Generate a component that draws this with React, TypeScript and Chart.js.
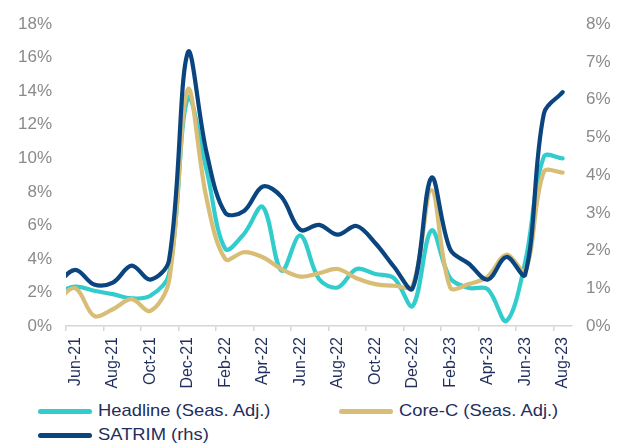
import React, { useEffect, useRef } from "react";
import { Chart, registerables } from "chart.js";

Chart.register(...registerables);

const months = [
  "May-21", "Jun-21", "Jul-21", "Aug-21", "Sep-21", "Oct-21", "Nov-21", "Dec-21",
  "Jan-22", "Feb-22", "Mar-22", "Apr-22", "May-22", "Jun-22", "Jul-22", "Aug-22",
  "Sep-22", "Oct-22", "Nov-22", "Dec-22", "Jan-23", "Feb-23", "Mar-23", "Apr-23",
  "May-23", "Jun-23", "Jul-23", "Aug-23",
];

const headline = [
  2.0, 2.35, 2.1, 1.9, 1.65, 1.8, 3.1, 13.6,
  9.3, 4.6, 5.5, 7.1, 3.3, 5.4, 2.8, 2.3,
  3.4, 3.1, 2.85, 1.2, 5.7, 2.85, 2.27, 2.2,
  0.3, 3.8, 10.1, 10.0,
];

const coreC = [
  1.5, 2.25, 0.6, 1.0, 1.6, 0.9, 2.7, 14.1,
  7.6, 4.0, 4.4, 4.1, 3.4, 2.95, 3.15, 3.4,
  2.85, 2.5, 2.4, 2.4, 8.1, 2.3, 2.5, 2.95,
  4.25, 3.3, 9.2, 9.15,
];

const satrim = [
  1.1, 1.49, 1.1, 1.15, 1.6, 1.23, 1.75, 7.25,
  4.6, 3.0, 3.05, 3.7, 3.42, 2.55, 2.68, 2.42,
  2.65, 2.2, 1.57, 1.0, 3.93, 2.03, 1.65, 1.23,
  1.83, 1.36, 5.63, 6.2,
];

const firstShown = "Jun-21";
const leftMax = 18;
const leftStep = 2;
const rightMax = 8;
const rightStep = 1;

const CYAN = "#33CCCC";
const GOLD = "#D8BD76";
const NAVY = "#0A4580";
const TEXT_NAVY = "#1F2E5C";
const GRAY = "#8A8A8A";
const FONT = "'Liberation Sans', Arial, sans-serif";

const legendItems = [
  { label: "Headline (Seas. Adj.)", color: CYAN, left: 38, top: 401 },
  { label: "Core-C (Seas. Adj.)", color: GOLD, left: 339, top: 401 },
  { label: "SATRIM (rhs)", color: NAVY, left: 38, top: 425 },
];

export default function App() {
  const ref = useRef<HTMLCanvasElement | null>(null);

  useEffect(() => {
    document.body.style.margin = "0";
    const canvas = ref.current;
    if (!canvas) return;
    const chart = new Chart(canvas, {
      type: "line",
      data: {
        labels: months,
        datasets: [
          {
            label: "SATRIM (rhs)",
            data: satrim,
            borderColor: NAVY,
            yAxisID: "y1",
            order: 0,
          },
          {
            label: "Core-C (Seas. Adj.)",
            data: coreC,
            borderColor: GOLD,
            yAxisID: "y",
            order: 1,
          },
          {
            label: "Headline (Seas. Adj.)",
            data: headline,
            borderColor: CYAN,
            yAxisID: "y",
            order: 2,
          },
        ],
      },
      options: {
        responsive: false,
        animation: false,
        devicePixelRatio: 1,
        layout: { padding: { top: 15, left: 0, right: 0, bottom: 0 } },
        elements: {
          line: { borderWidth: 4.2, tension: 0.35, borderCapStyle: "round", borderJoinStyle: "round", fill: false },
          point: { radius: 0, hoverRadius: 0 },
        },
        plugins: { legend: { display: false }, tooltip: { enabled: false } },
        scales: {
          x: {
            type: "category",
            min: firstShown,
            offset: true,
            afterFit: (s: any) => { s.height = 66; },
            border: { display: true, color: "#D6D6D6", width: 1.5 },
            grid: {
              offset: true,
              drawOnChartArea: false,
              drawTicks: true,
              tickLength: 5,
              lineWidth: 1.5,
              color: (ctx: any) => (ctx.index % 2 === 0 ? "#D6D6D6" : "rgba(0,0,0,0)"),
            },
            ticks: {
              autoSkip: false,
              maxRotation: 90,
              minRotation: 90,
              padding: 6,
              color: TEXT_NAVY,
              font: { family: FONT, size: 16 },
              callback: function (this: any, value: any, index: number) {
                return index % 2 === 0 ? this.getLabelForValue(value) : "";
              },
            },
          },
          y: {
            position: "left",
            min: 0,
            max: leftMax,
            afterFit: (s: any) => { s.width = 66; },
            border: { display: false },
            grid: { display: false, drawTicks: false },
            ticks: {
              stepSize: leftStep,
              padding: 14,
              color: GRAY,
              font: { family: FONT, size: 17 },
              callback: (v: any) => `${v}%`,
            },
          },
          y1: {
            position: "right",
            min: 0,
            max: rightMax,
            afterFit: (s: any) => { s.width = 57; },
            border: { display: false },
            grid: { display: false, drawTicks: false },
            ticks: {
              stepSize: rightStep,
              padding: 14,
              color: GRAY,
              font: { family: FONT, size: 17 },
              callback: (v: any) => `${v}%`,
            },
          },
        },
      },
    });
    return () => chart.destroy();
  }, []);

  return (
    <div style={{ position: "relative", width: 629, height: 447, background: "#fff", overflow: "hidden" }}>
      <canvas ref={ref} width={629} height={392} style={{ display: "block", width: 629, height: 392 }} />
      {legendItems.map((it) => (
        <div
          key={it.label}
          style={{
            position: "absolute",
            left: it.left,
            top: it.top,
            height: 20,
            display: "flex",
            alignItems: "center",
            fontFamily: FONT,
            fontSize: 17,
            color: TEXT_NAVY,
            whiteSpace: "nowrap",
          }}
        >
          <span style={{ display: "inline-block", width: 54, height: 5, borderRadius: 3, background: it.color, marginRight: 6 }} />
          <span style={{ display: "inline-block", transform: "scaleX(1.08)", transformOrigin: "left center" }}>{it.label}</span>
        </div>
      ))}
    </div>
  );
}
